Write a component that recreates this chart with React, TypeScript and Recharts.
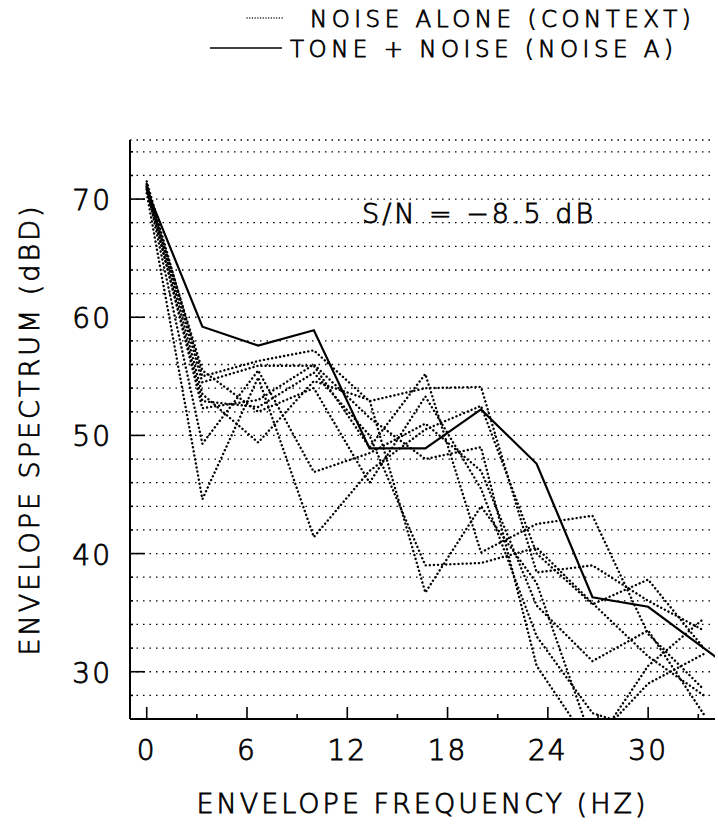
import React from "react";
import { LineChart, Line, XAxis, YAxis, CartesianGrid } from "recharts";

// envelope frequency (Hz) of each spectral bin
const frequencies = [0, 3.33, 6.67, 10, 13.33, 16.67, 20, 23.33, 26.67, 30, 33.33, 36.67];

// tone + noise (noise A), solid
const toneNoise = [70.8, 59.2, 57.6, 58.9, 48.9, 48.9, 52.2, 47.6, 36.3, 35.5, 32.0, 28.5];

// noise alone (context), dotted
const noise1 = [71.5, 55.0, 56.3, 57.2, 52.9, 54.0, 54.1, 38.4, 39.0, 36.0, 33.5];
const noise2 = [71.2, 54.5, 55.9, 55.9, 49.0, 55.2, 40.1, 42.5, 43.2, 33.2, 28.5];
const noise3 = [70.5, 44.6, 54.9, 41.4, 47.0, 50.5, 52.5, 40.0, 35.7, 37.8, 32.0];
const noise4 = [71.0, 49.3, 55.5, 46.9, 48.5, 51.0, 47.0, 35.6, 30.9, 33.5, 26.4];
const noise5 = [70.8, 52.9, 52.4, 55.3, 50.0, 39.0, 39.2, 40.5, 35.8, 31.3, 28.0];
const noise6 = [71.3, 53.5, 49.4, 54.6, 53.0, 36.7, 44.0, 37.5, 24.0, 29.0, 31.5];
const noise7 = [70.9, 55.5, 52.0, 54.0, 46.0, 53.3, 45.5, 33.0, 26.5, 25.0, 24.0];
const noise8 = [71.1, 52.3, 53.0, 56.0, 51.5, 48.0, 49.0, 30.5, 23.5, 30.5, 34.5];

const noiseSeries = [noise1, noise2, noise3, noise4, noise5, noise6, noise7, noise8];

const xTicks = [0, 3, 6, 9, 12, 15, 18, 21, 24, 27, 30, 33];
const yTicks = [28, 30, 32, 34, 36, 38, 40, 42, 44, 46, 48, 50, 52, 54, 56, 58, 60, 62, 64, 66, 68, 70, 72, 74];

const data = frequencies.map((f, i) => {
  const row: Record<string, number | undefined> = { f, tone: toneNoise[i] };
  noiseSeries.forEach((s, k) => {
    row["n" + k] = s[i];
  });
  return row;
});

const FONT = '"DejaVu Sans", sans-serif';
// thin plotter-like lettering
const textStyle = { fontFamily: FONT, fontWeight: 200, fill: "#000", stroke: "#000", strokeWidth: 0.8 };

const BottomTick = ({ x, y, payload }: any) => {
  const major = payload.value % 6 === 0;
  return (
    <g>
      <line x1={x} x2={x} y1={y} y2={y - (major ? 12 : 5)} stroke="#000" strokeWidth={1.6} />
      {major && (
        <text x={x} y={y + 41} textAnchor="middle" fontSize={28} letterSpacing={2} {...textStyle}>
          {payload.value}
        </text>
      )}
    </g>
  );
};

const TopTick = ({ x, y, payload }: any) => {
  const major = payload.value % 6 === 0;
  return <line x1={x} x2={x} y1={y} y2={y + (major ? 12 : 5)} stroke="#000" strokeWidth={1.6} />;
};

const LeftTick = ({ x, y, payload }: any) => {
  const major = payload.value % 10 === 0;
  return (
    <g>
      <line x1={x} x2={x + (major ? 15 : 3)} y1={y} y2={y} stroke="#000" strokeWidth={1.6} />
      {major && (
        <text x={x - 18} y={y + 11} textAnchor="end" fontSize={28} letterSpacing={2} {...textStyle}>
          {payload.value}
        </text>
      )}
    </g>
  );
};

const RightTick = ({ x, y, payload }: any) => {
  const major = payload.value % 10 === 0;
  return <line x1={x} x2={x - (major ? 10 : 3)} y1={y} y2={y} stroke="#000" strokeWidth={1.6} />;
};

const axisLine = { stroke: "#000", strokeWidth: 2 };

export default function App() {
  return (
    <div style={{ position: "absolute", left: 0, top: 0, width: 718, height: 827, background: "#fff" }}>
      <LineChart
        width={718}
        height={827}
        data={data}
        margin={{ top: 140, right: 3, bottom: 0, left: 0 }}
      >
        <CartesianGrid vertical={false} stroke="#000" strokeWidth={1.3} strokeDasharray="1.5 5" />
        <XAxis
          dataKey="f"
          type="number"
          domain={[-1, 34]}
          ticks={xTicks}
          interval={0}
          allowDataOverflow
          height={108}
          tickSize={0}
          tickMargin={0}
          tickLine={false}
          axisLine={axisLine}
          tick={<BottomTick />}
          label={{
            value: "ENVELOPE FREQUENCY (HZ)",
            position: "insideBottom",
            offset: 14,
            style: { ...textStyle, fontSize: 27, letterSpacing: 3 },
          }}
        />
        <XAxis
          xAxisId="top"
          orientation="top"
          dataKey="f"
          type="number"
          domain={[-1, 34]}
          ticks={xTicks}
          interval={0}
          allowDataOverflow
          height={0}
          tickSize={0}
          tickMargin={0}
          tickLine={false}
          axisLine={axisLine}
          tick={<TopTick />}
        />
        <YAxis
          type="number"
          domain={[26, 75]}
          ticks={yTicks}
          interval={0}
          allowDataOverflow
          width={130}
          tickSize={0}
          tickMargin={0}
          tickLine={false}
          axisLine={axisLine}
          tick={<LeftTick />}
          label={{
            value: "ENVELOPE SPECTRUM (dBD)",
            angle: -90,
            position: "insideLeft",
            offset: 29,
            style: { ...textStyle, fontSize: 27, letterSpacing: 3, textAnchor: "middle" },
          }}
        />
        <YAxis
          yAxisId="right"
          orientation="right"
          type="number"
          domain={[26, 75]}
          ticks={yTicks}
          interval={0}
          allowDataOverflow
          width={0}
          tickSize={0}
          tickMargin={0}
          tickLine={false}
          axisLine={axisLine}
          tick={<RightTick />}
        />
        {noiseSeries.map((_, k) => (
          <Line
            key={k}
            dataKey={"n" + k}
            stroke="#000"
            strokeWidth={2.4}
            strokeDasharray="0.1 4"
            strokeLinecap="round"
            dot={false}
            activeDot={false}
            isAnimationActive={false}
          />
        ))}
        <Line
          dataKey="tone"
          stroke="#000"
          strokeWidth={2.2}
          dot={false}
          activeDot={false}
          isAnimationActive={false}
        />
      </LineChart>
      <svg
        width={718}
        height={130}
        style={{ position: "absolute", left: 0, top: 0, pointerEvents: "none" }}
      >
        <line x1={247} x2={283} y1={18} y2={18} stroke="#000" strokeWidth={1.3} strokeDasharray="0.1 2.6" strokeLinecap="round" />
        <text x={310} y={27} fontSize={23} letterSpacing={4.5} {...textStyle}>
          NOISE ALONE (CONTEXT)
        </text>
        <line x1={210} x2={282} y1={48} y2={48} stroke="#000" strokeWidth={1.6} />
        <text x={290} y={57} fontSize={23} letterSpacing={4.5} {...textStyle}>
          TONE + NOISE (NOISE A)
        </text>
      </svg>
      <svg
        width={718}
        height={827}
        style={{ position: "absolute", left: 0, top: 0, pointerEvents: "none" }}
      >
        <text x={362} y={223} fontSize={27} letterSpacing={3} {...textStyle}>
          S/N = −8.5 dB
        </text>
      </svg>
    </div>
  );
}
